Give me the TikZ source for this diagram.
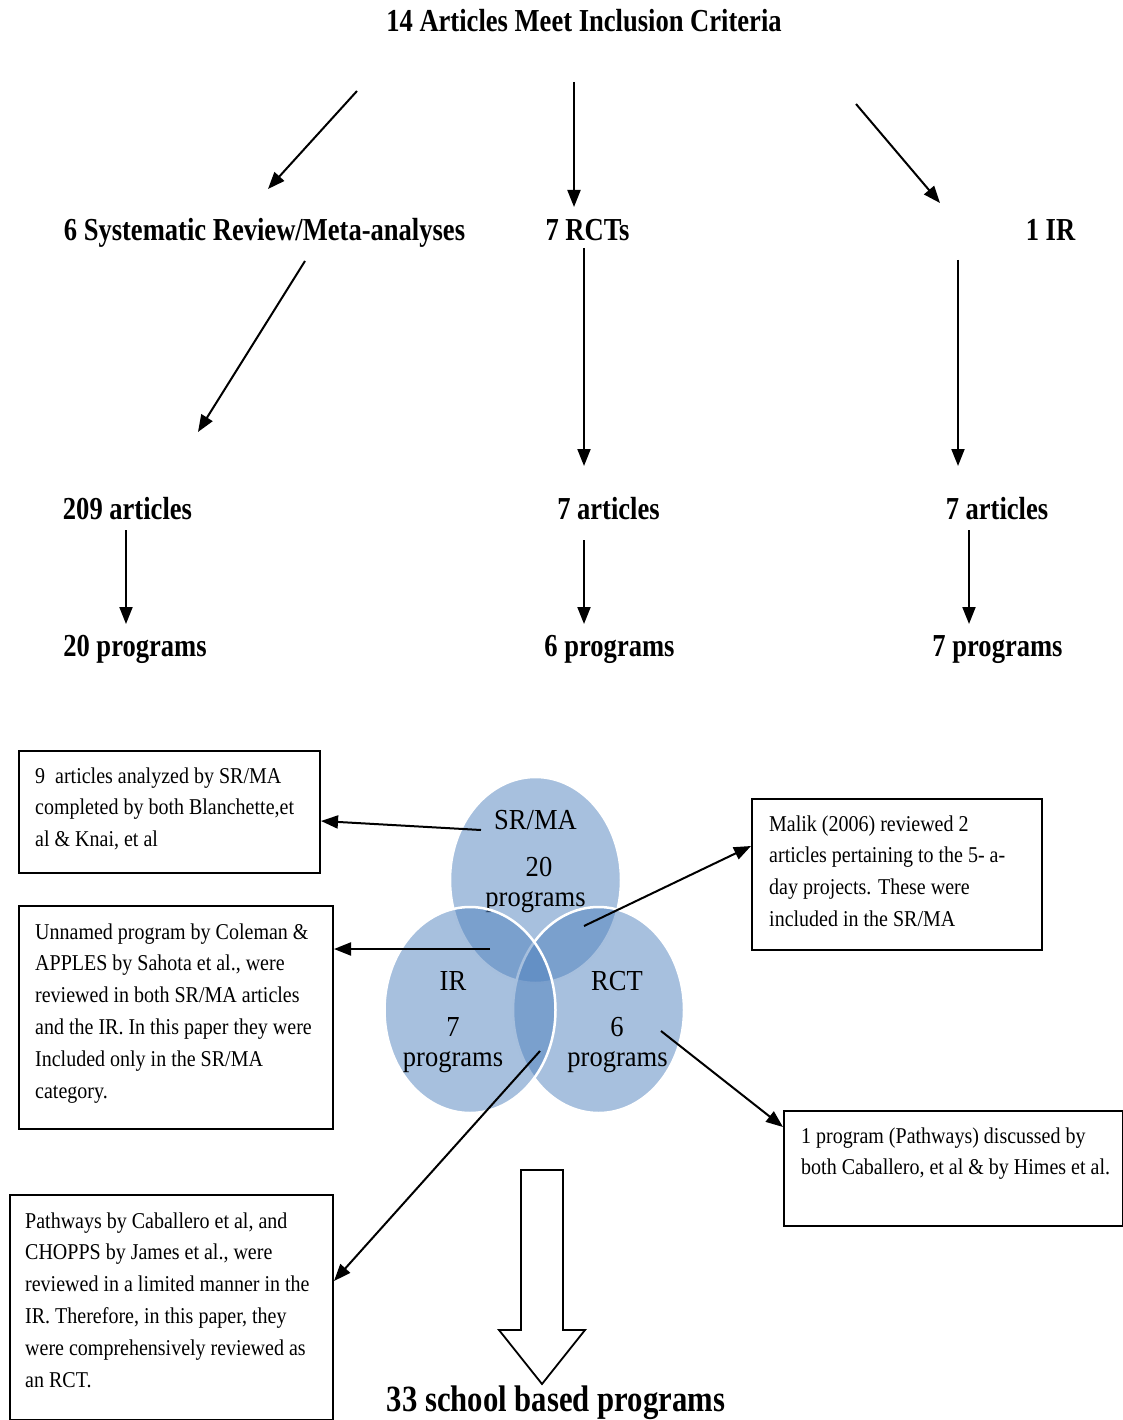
\documentclass[tikz,border=0pt]{standalone}
\usepackage{fontspec}
\setmainfont{Liberation Serif}
\newfontfamily\headfont{Liberation Serif}[FakeStretch=0.83]
\newfontfamily\boxfont{Liberation Serif}[FakeStretch=0.885]
\newfontfamily\vennfont{Liberation Serif}[FakeStretch=0.915]
\usetikzlibrary{arrows.meta,shapes.geometric}
\definecolor{vennblue}{RGB}{79,129,189}

\tikzset{
  head/.style={font=\headfont\bfseries\fontsize{32}{38}\selectfont, inner sep=0pt, anchor=base},
  bighead/.style={font=\headfont\bfseries\fontsize{37}{44}\selectfont, inner sep=0pt, anchor=base},
  link/.style={line width=2pt, -{Triangle[length=17pt,width=13pt]}},
  boxframe/.style={draw, line width=2pt, inner sep=0pt, anchor=north west},
  boxtext/.style={font=\boxfont\fontsize{22.6}{31.8}\selectfont, align=left, inner sep=0pt, anchor=north west},
  venn/.style={ellipse, minimum width=171pt, minimum height=206pt, inner sep=0pt,
    fill=vennblue, fill opacity=0.5, draw=white, draw opacity=1, line width=2.5pt},
  venntext/.style={font=\vennfont\fontsize{29}{34}\selectfont, inner sep=0pt, anchor=base}
}

\begin{document}
\begin{tikzpicture}[x=1pt, y=-1pt]
\useasboundingbox (0,0) rectangle (1123,1420);

% ---- flow of the included articles ----
\node[head] (title) at (584,32) {14 Articles Meet Inclusion Criteria};

\node[head] (sr)   at (264.5,241) {6 Systematic Review/Meta-analyses};
\node[head] (rcts) at (587.5,241) {7 RCTs};
\node[head] (ir)   at (1050.5,241) {1 IR};

\node[head] (art1) at (127.5,519) {209 articles};
\node[head] (art2) at (608.5,519) {7 articles};
\node[head] (art3) at (997,519)   {7 articles};

\node[head] (prog1) at (135,656)   {20 programs};
\node[head] (prog2) at (609.5,656) {6 programs};
\node[head] (prog3) at (997.5,656) {7 programs};

% arrow end points
\coordinate (a1s) at (357,91);  \coordinate (a1e) at (268,189);
\coordinate (a2s) at (574,82);  \coordinate (a2e) at (574,207);
\coordinate (a3s) at (856,104); \coordinate (a3e) at (940,203);
\coordinate (a4s) at (305,261); \coordinate (a4e) at (198,432);
\coordinate (a5s) at (584,248); \coordinate (a5e) at (584,466);
\coordinate (a6s) at (958,260); \coordinate (a6e) at (958,466);
\coordinate (a7s) at (126,530); \coordinate (a7e) at (126,624);
\coordinate (a8s) at (584,540); \coordinate (a8e) at (584,624);
\coordinate (a9s) at (969,530); \coordinate (a9e) at (969,624);

\foreach \i in {1,...,9} { \draw[link] (a\i s) -- (a\i e); }

% ---- Venn diagram of the programs ----
\node[venn] (vsr) at (535.5,880) {};
\node[venntext] (vsr1) at (535.5,829) {SR/MA};
\node[venntext] (vsr2) at (539,876)   {20};
\node[venntext] (vsr3) at (535.5,906) {programs};
\node[venn] (vrct) at (598.5,1010) {};
\node[venn] (vir)  at (470,1010) {};
\node[venntext] (vir1) at (453,990)  {IR};
\node[venntext] (vir2) at (453,1036) {7};
\node[venntext] (vir3) at (453,1066) {programs};
\node[venntext] (vrct1) at (617,990)  {RCT};
\node[venntext] (vrct2) at (617,1036) {6};
\node[venntext] (vrct3) at (617.5,1066) {programs};

% ---- notes ----
\node[boxframe, minimum width=301pt, minimum height=122pt] (b1) at (18,750) {};
\node[boxtext] (t1) at (35,760.6) {\strut 9\ \ articles analyzed by SR/MA\\completed by both Blanchette,et\\al \& Knai, et al};

\node[boxframe, minimum width=314pt, minimum height=223pt] (b2) at (18,905) {};
\node[boxtext] (t2) at (35,916.6) {\strut Unnamed program by Coleman \&\\APPLES by Sahota et al., were\\reviewed in both SR/MA articles\\and the IR. In this paper they were\\Included only in the SR/MA\\category.};

\node[boxframe, minimum width=290pt, minimum height=151pt] (b3) at (751,798) {};
\node[boxtext] (t3) at (769,808.6) {\strut Malik (2006) reviewed 2\\articles pertaining to the 5- a-\\day projects. These were\\included in the SR/MA};

\node[boxframe, minimum width=339pt, minimum height=115pt] (b4) at (783,1110) {};
\node[boxtext] (t4) at (801,1120.6) {\strut 1 program (Pathways) discussed by\\both Caballero, et al \& by Himes et al.};

\node[boxframe, minimum width=323pt, minimum height=225pt] (b5) at (9,1194) {};
\node[boxtext] (t5) at (25,1205.6) {\strut Pathways by Caballero et al, and\\CHOPPS by James et al., were\\reviewed in a limited manner in the\\IR. Therefore, in this paper, they\\were comprehensively reviewed as\\an RCT.};

\coordinate (s1) at (481,830);
\coordinate (s2) at (490,949);
\coordinate (s3) at (584,926);
\coordinate (s4) at (661,1031);
\coordinate (s5) at (540,1051);
\draw[link] (s1) -- ([yshift=-9pt]b1.east);
\draw[link] (s2) -- ([yshift=-44pt]b2.north east);
\draw[link] (s3) -- ([yshift=-48pt]b3.north west);
\draw[link] (s4) -- ([yshift=-17pt]b4.north west);
\draw[link] (s5) -- ([yshift=-87pt]b5.north east);

% ---- total ----
\draw[line width=1.8pt, fill=white, line join=miter]
  (521,1170) -- (563,1170) -- (563,1330) -- (585,1330) -- (542,1384)
  -- (499,1330) -- (521,1330) -- cycle;
\node[bighead] (total) at (556,1411) {33 school based programs};
\end{tikzpicture}
\end{document}
